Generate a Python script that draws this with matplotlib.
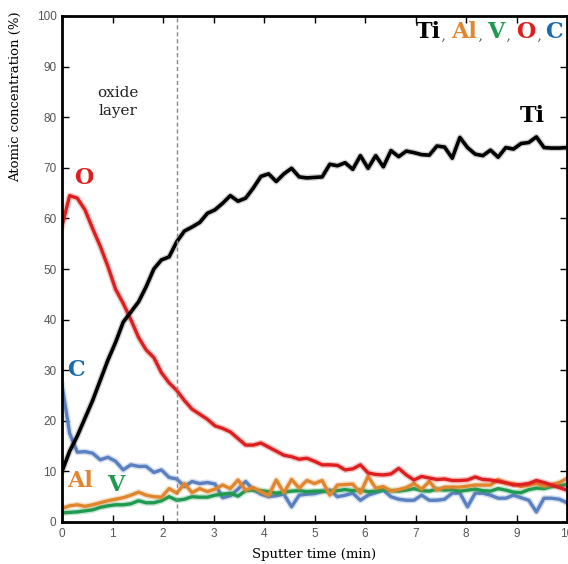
import numpy as np
import matplotlib
matplotlib.use("Agg")
import matplotlib.pyplot as plt
import matplotlib.patheffects as pe

# sputter time grid (min)
t = np.linspace(0, 10, 67)

ti = [10, 14, 17, 20.5, 24, 28, 32, 35.5, 39.5, 41.5,
      43.5, 46.5, 50, 51.8, 52.4, 55.4, 57.5, 58.3, 59.2, 61,
      61.7, 63, 64.5, 63.4, 64, 66, 68.3, 68.8, 67.3, 68.8,
      69.9, 68.2, 68, 68.1, 68.2, 70.7, 70.4, 71, 69.7, 72.4,
      69.9, 72.4, 70.2, 73.4, 72.2, 73.3, 73, 72.6, 72.5, 74.3,
      74.1, 71.9, 76, 74, 72.7, 72.4, 73.5, 72.1, 74, 73.7,
      74.8, 75, 76.1, 74, 73.9, 73.9, 74]

o = [58.5, 64.5, 64, 61.7, 58, 54.5, 50.5, 46, 43.2, 40,
     36.5, 34, 32.5, 29.5, 27.5, 26, 24, 22.3, 21.3, 20.3,
     19, 18.5, 17.8, 16.5, 15.2, 15.2, 15.6, 14.8, 14, 13.2,
     12.9, 12.4, 12.6, 12, 11.3, 11.3, 11.2, 10.3, 10.5, 11.3,
     9.7, 9.4, 9.3, 9.5, 10.6, 9.3, 8.3, 9, 8.7, 8.4,
     8.5, 8.2, 8.2, 8.3, 8.9, 8.4, 8.3, 8, 7.8, 7.3,
     7.4, 7.6, 8.2, 7.8, 7.3, 6.8, 6.3]

c = [27, 17.5, 13.8, 13.9, 13.6, 12.3, 12.8, 12, 10.3, 11.3,
     11, 11, 9.8, 10.3, 8.8, 8.5, 7, 8, 7.6, 7.8,
     7.5, 4.8, 5.2, 6.5, 8, 6.4, 5.5, 5, 5.2, 5.5,
     3, 5.3, 5.5, 5.6, 6, 6.3, 5, 5.3, 5.7, 4.3,
     5.3, 5.8, 6.3, 5, 4.5, 4.3, 4.3, 5.3, 4.3, 4.3,
     4.5, 5.7, 5.7, 3, 5.7, 5.7, 5.3, 4.7, 4.7, 5.3,
     4.8, 4.3, 2, 4.7, 4.7, 4.5, 3.8]

al = [2.7, 3.2, 3.4, 3.1, 3.4, 3.8, 4.2, 4.5, 4.8, 5.3,
      5.9, 5.3, 5, 4.9, 6.6, 5.7, 7.6, 5.8, 6.6, 6,
      6.5, 7.3, 6.6, 8.3, 6.3, 6.8, 6, 5.2, 8.3, 5.8,
      8.4, 6.7, 8.2, 7.6, 8.2, 5.3, 7.3, 7.4, 7.5, 5.7,
      9, 6.7, 7, 6.1, 6.4, 6.8, 7.6, 6.5, 8, 6.3,
      6.9, 6.9, 6.9, 7.1, 7.3, 7.3, 7.3, 8.4, 7.6, 7.6,
      7, 7.3, 7.6, 7.1, 7.4, 7.8, 8.6]

v = [1.8, 1.9, 2.0, 2.2, 2.4, 2.9, 3.2, 3.4, 3.4, 3.6,
     4.2, 3.8, 3.8, 4.2, 5.0, 4.3, 4.5, 5.0, 4.9, 4.9,
     5.3, 5.5, 5.7, 5.1, 6.2, 6.3, 6.2, 6.0, 5.7, 5.9,
     6.1, 6.2, 6.0, 6.1, 6.1, 6.0, 6.2, 6.4, 6.2, 6.3,
     6.0, 6.1, 6.4, 6.2, 6.1, 6.3, 6.6, 6.2, 6.1, 6.5,
     6.3, 6.4, 6.1, 6.3, 6.5, 6.2, 6.1, 6.6, 6.3, 5.9,
     5.8, 6.4, 6.7, 6.6, 7.0, 7.2, 7.4]

oxide_edge = 2.27

black = "#000000"
red = "#dd1f1f"
blue_line = "#5a80c0"
blue_txt = "#1a6cb0"
orange = "#e0862e"
green = "#1f9a50"

fig = plt.figure(figsize=(5.68, 5.64), dpi=100)
ax = fig.add_axes([62 / 568, 42 / 564, 505 / 568, 506 / 564])

glow = lambda col: [pe.Stroke(linewidth=4.5, foreground=col, alpha=0.25), pe.Normal()]
ax.plot(t, c, color=blue_line, lw=2.4, path_effects=glow(blue_line))
ax.plot(t, v, color=green, lw=2.4, path_effects=glow(green))
ax.plot(t, al, color=orange, lw=2.4, path_effects=glow(orange))
ax.plot(t, o, color=red, lw=2.4, path_effects=glow(red))
ax.plot(t, ti, color=black, lw=2.6, path_effects=glow("#444444"))

ax.axvline(oxide_edge, color="#888888", lw=1, ls=(0, (3, 2)))

ax.set_xlim(0, 10)
ax.set_ylim(0, 100)
ax.set_xticks(range(0, 11))
ax.set_yticks(range(0, 101, 10))
ax.tick_params(direction="in", length=5, width=1, top=True, right=True,
               labelsize=8.5, labelcolor="#555555", pad=4)
for lab in ax.get_xticklabels() + ax.get_yticklabels():
    lab.set_family("Liberation Sans")
for s in ax.spines.values():
    s.set_linewidth(2)

ax.set_xlabel("Sputter time (min)", family="DejaVu Serif", fontsize=9.5, labelpad=6)
ax.set_ylabel("Atomic concentration (%)", family="DejaVu Serif", fontsize=9.5)
ax.yaxis.set_label_coords(-0.08, 0.84)

lbl = dict(family="DejaVu Serif", fontweight="bold", fontsize=16, ha="center", va="center")
ax.text(1.11, 83, "oxide\nlayer", family="DejaVu Serif", fontsize=11, ha="center",
        va="center", color="#222222", linespacing=1.3)
ax.text(9.31, 80.2, "Ti", color=black, **lbl)
ax.text(0.44, 68, "O", color=red, **lbl)
ax.text(0.28, 30, "C", color=blue_txt, **lbl)
ax.text(0.36, 8.1, "Al", color=orange, **lbl)
ax.text(1.07, 7.3, "V", color=green, **lbl)

# element key top right
key = [("Ti", black, 0.725), ("Al", orange, 0.796), ("V", green, 0.859),
       ("O", red, 0.919), ("C", blue_txt, 0.974)]
commas = [0.757, 0.830, 0.886, 0.946]
for name, col, xk in key:
    ax.text(xk, 0.968, name, color=col, transform=ax.transAxes, **lbl)
for xc in commas:
    ax.text(xc, 0.953, ",", color="#666666", style="italic", fontsize=10,
            ha="center", va="baseline", transform=ax.transAxes)

fig.savefig("out.png", dpi=100)
